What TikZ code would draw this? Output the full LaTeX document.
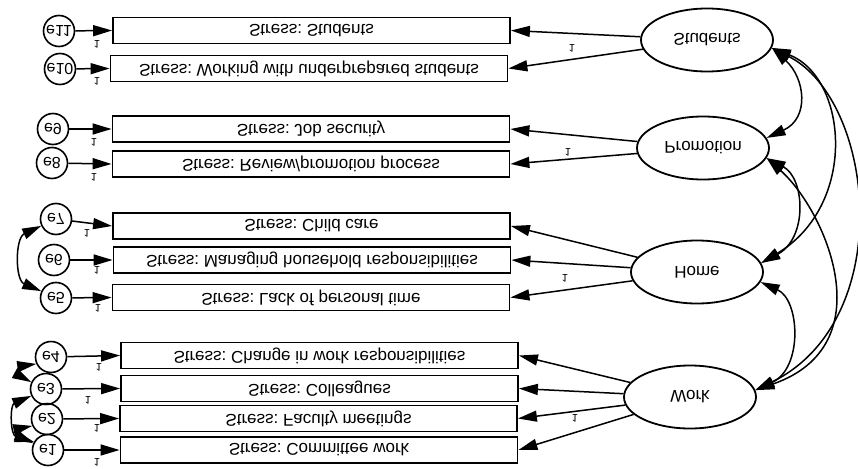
\documentclass[tikz,border=0pt]{standalone}
\usepackage{fontspec}
\setmainfont{Liberation Sans}
\usepackage{graphicx}
\usetikzlibrary{shapes.geometric, arrows.meta}
% every label of this diagram is printed mirrored top to bottom
\newcommand\flip[1]{\scalebox{1}[-1]{#1}}
\frenchspacing
\begin{document}
\begin{tikzpicture}[x=1pt, y=-1pt,
  ind/.style={draw, rectangle, line width=1.8pt, minimum width=397pt, minimum height=26pt,
    inner sep=0pt, font=\fontsize{17}{17}\selectfont},
  lat/.style={draw, ellipse, line width=1.8pt, minimum width=132pt, minimum height=63pt,
    inner sep=0pt, font=\fontsize{17}{17}\selectfont},
  err/.style={draw, circle, line width=1.6pt, minimum size=31pt, inner sep=0pt,
    font=\fontsize{16}{16}\selectfont},
  one/.style={inner sep=0pt, font=\fontsize{11}{11}\selectfont},
  tip/.tip={Triangle[length=19pt 0 0, width=11pt 0 0]},
  load/.style={line width=1.5pt, -tip},
  cov/.style={line width=1.5pt, tip-tip}]
\useasboundingbox (0,0) rectangle (858,468);
\clip (0,0) rectangle (858,468);

% observed indicators
\node[ind] (b11) at (311.5,30.5) {\flip{Stress: Students}};
\node[ind] (b10) at (309,68.5) {\flip{Stress: Working with underprepared students}};
\node[ind] (b9) at (311,129) {\flip{Stress: Job security}};
\node[ind] (b8) at (311,164) {\flip{Stress: Review/promotion process}};
\node[ind] (b7) at (311.5,226) {\flip{Stress: Child care}};
\node[ind] (b6) at (312,260) {\flip{Stress: Managing household responsibilities}};
\node[ind] (b5) at (311,297.5) {\flip{Stress: Lack of personal time}};
\node[ind] (b4) at (319.5,355.5) {\flip{Stress: Change in work responsibilities}};
\node[ind] (b3) at (319.5,388.5) {\flip{Stress: Colleagues}};
\node[ind] (b2) at (318.5,418.5) {\flip{Stress: Faculty meetings}};
\node[ind] (b1) at (319,450) {\flip{Stress: Committee work}};

% latent factors
\node[lat] (S) at (707,40) {\flip{Students}};
\node[lat] (P) at (703,148) {\flip{Promotion}};
\node[lat] (H) at (697,272) {\flip{Home}};
\node[lat] (W) at (690,397) {\flip{Work}};

% error terms
\node[err] (e11) at (59,31) {\flip{e11}};
\node[err] (e10) at (60,69) {\flip{e10}};
\node[err] (e9) at (53,129) {\flip{e9}};
\node[err] (e8) at (52,163) {\flip{e8}};
\node[err] (e7) at (56,219) {\flip{e7}};
\node[err] (e6) at (54,260) {\flip{e6}};
\node[err] (e5) at (56,298) {\flip{e5}};
\node[err] (e4) at (51,357) {\flip{e4}};
\node[err] (e3) at (46,389) {\flip{e3}};
\node[err] (e2) at (47,419) {\flip{e2}};
\node[err] (e1) at (48,450) {\flip{e1}};

% error paths
\foreach \i in {1,...,11} \draw[load] (e\i) -- (b\i.west);

% factor loadings
\draw[load] (S) -- (b11.east);
\draw[load] (S) -- (b10.east);
\draw[load] (P) -- (b9.east);
\draw[load] (P) -- (b8.east);
\draw[load] (H) -- (b7.east);
\draw[load] (H) -- (b6.east);
\draw[load] (H) -- (b5.east);
\draw[load] (W) -- (b4.east);
\draw[load] (W) -- (b3.east);
\draw[load] (W) -- (b2.east);
\draw[load] (W) -- (b1.east);

% fixed coefficients
\node[one] (f11) at (97,44) {\flip{1}};
\node[one] (f10) at (97,81) {\flip{1}};
\node[one] (f9) at (94,142) {\flip{1}};
\node[one] (f8) at (94,177) {\flip{1}};
\node[one] (f7) at (87,233) {\flip{1}};
\node[one] (f6) at (97,270) {\flip{1}};
\node[one] (f5) at (98,308) {\flip{1}};
\node[one] (f4) at (99,367) {\flip{1}};
\node[one] (f3) at (88,400) {\flip{1}};
\node[one] (f2) at (97,428) {\flip{1}};
\node[one] (f1) at (97,462) {\flip{1}};
\node[one] (fS) at (572,48) {\flip{1}};
\node[one] (fP) at (568,152) {\flip{1}};
\node[one] (fH) at (565,278) {\flip{1}};
\node[one] (fW) at (575,418) {\flip{1}};

% factor covariances
\draw[cov] (S.-7) .. controls (805,78) and (810,118) .. (P.9);
\draw[cov] (S.-7) .. controls (848,78) and (858,205) .. (H.8);
\draw[cov] (S.-7) .. controls (875,100) and (898,320) .. (W.6);
\draw[cov] (P.-9) .. controls (805,178) and (808,238) .. (H.8);
\draw[cov] (P.-9) .. controls (825,210) and (885,345) .. (W.6);
\draw[cov] (H.-9) .. controls (800,300) and (803,368) .. (W.6);

% error covariances
\draw[cov] (e7.205) .. controls (15,238) and (15,280) .. (e5.155);
\draw[cov] (e4.205) .. controls (22,366) and (20,376) .. (e3.155);
\draw[cov] (e3.205) .. controls (10,405) and (10,435) .. (e1.150);
\draw[cov] (e2.205) .. controls (22,428) and (22,438) .. (e1.155);
\end{tikzpicture}
\end{document}
